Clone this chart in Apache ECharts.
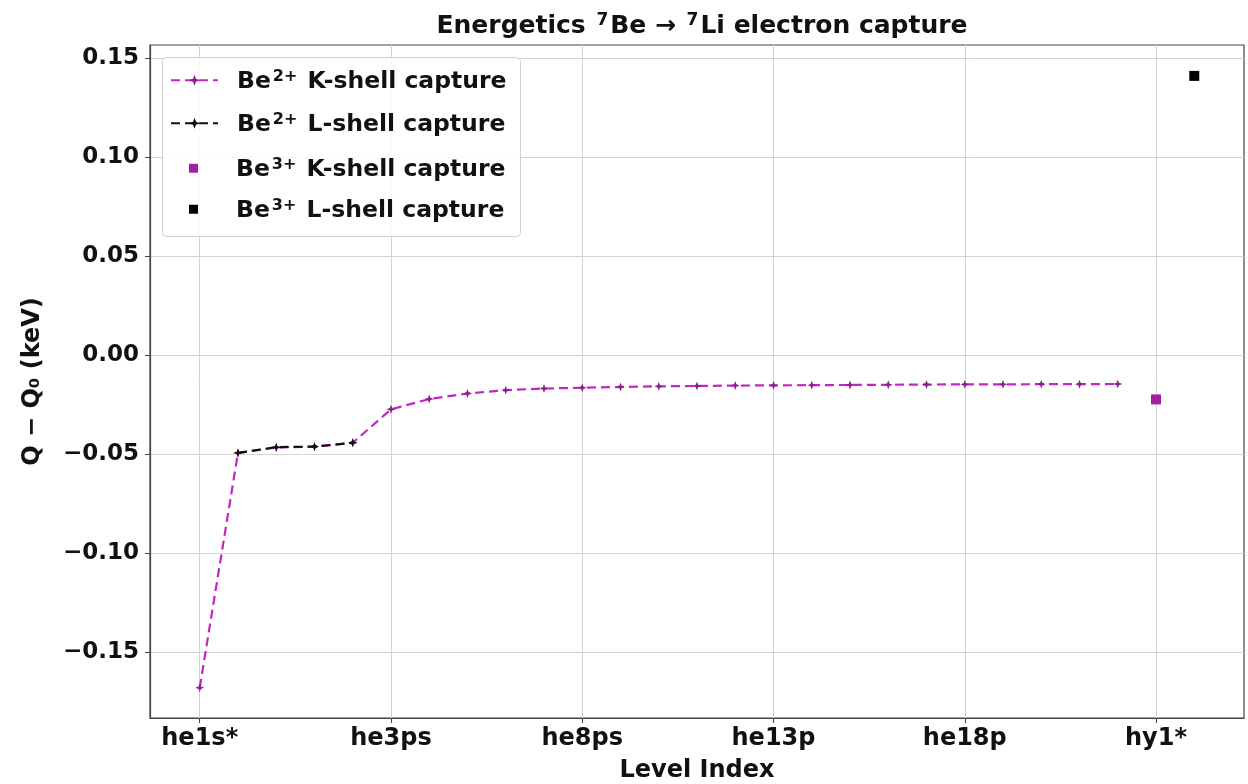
<!DOCTYPE html>
<html>
<head>
<meta charset="utf-8">
<script src="https://cdn.jsdelivr.net/npm/echarts@6/dist/echarts.min.js"></script>
<style>html,body{margin:0;padding:0;background:#fff}#chart{width:1248px;height:784px}</style>
</head>
<body>
<div id="chart"></div>
<script>
// ---- data ----
const xTickPositions = [0, 5, 10, 15, 20, 25];
const xTickLabels = ['he1s*', 'he3ps', 'he8ps', 'he13p', 'he18p', 'hy1*'];
const yTickValues = [-0.15, -0.10, -0.05, 0.00, 0.05, 0.10, 0.15];

// Be2+ K-shell capture, level index 0..24
const kShellBe2Index = [0,1,2,3,4,5,6,7,8,9,10,11,12,13,14,15,16,17,18,19,20,21,22,23,24];
const kShellBe2Values = [-0.168, -0.0494, -0.0467, -0.0463, -0.0443, -0.0274, -0.0222, -0.0194, -0.0177, -0.0169,
  -0.0165, -0.0161, -0.0158, -0.0156, -0.0154, -0.0153, -0.0152, -0.0151, -0.0150, -0.0149,
  -0.0148, -0.0148, -0.0147, -0.0147, -0.0146];
// Be2+ L-shell capture
const lShellBe2Index = [1, 2, 3, 4];
const lShellBe2Values = [-0.0494, -0.0465, -0.0462, -0.0443];
// Be3+ captures
const kShellBe3Index = [25];
const kShellBe3Values = [-0.0224];
const lShellBe3Index = [26];
const lShellBe3Values = [0.141];

const seriesNames = ['Be2+ K-shell capture', 'Be2+ L-shell capture', 'Be3+ K-shell capture', 'Be3+ L-shell capture'];

const pairs = (xs, ys) => xs.map((x, i) => [x, ys[i]]);
const FONT = 'DejaVu Sans';
const starPath = 'path://M0,-6L1.6,-1.6L6,0L1.6,1.6L0,6L-1.6,1.6L-6,0L-1.6,-1.6Z';
const squareIcon = 'path://M0,0L10,0L10,10L0,10Z';

function makeRich(size, supSize, supPad) {
  return {
    n: {fontFamily: FONT, fontWeight: 'bold', fontSize: size, color: '#111', lineHeight: size + 4, verticalAlign: 'bottom'},
    n0: {fontFamily: FONT, fontWeight: 'bold', fontSize: size, color: '#111', lineHeight: size + 4, verticalAlign: 'bottom', padding: [0, 0, 0, 14]},
    s: {fontFamily: FONT, fontWeight: 'bold', fontSize: supSize, color: '#111', verticalAlign: 'bottom', padding: [0, 2, supPad, 2]}
  };
}
const legendRich = makeRich(23.5, 16, 9);
const titleRich = makeRich(25, 17, 10);
const legendFormatter = (name) => {
  const m = name.match(/^Be(\d\+)\s(.*)$/);
  return '{n0|Be}{s|' + m[1] + '}{n| ' + m[2] + '}';
};

const chart = echarts.init(document.getElementById('chart'), null, {renderer: 'canvas'});
chart.setOption({
  animation: false,
  backgroundColor: '#ffffff',
  title: {
    text: '{n|Energetics }{s|7}{n|Be → }{s|7}{n|Li electron capture}',
    left: 697, textAlign: 'center', top: 5,
    textStyle: {rich: titleRich}
  },
  grid: {left: 150, right: 4, top: 45, bottom: 66, show: true, borderColor: '#444', borderWidth: 1.2,
    backgroundColor: 'transparent', containLabel: false, outerBoundsMode: 'none'},
  graphic: [{
    type: 'rect', z: 3, left: 162, top: 57,
    shape: {width: 358, height: 179, r: 4},
    style: {fill: 'rgba(255,255,255,0.85)', stroke: '#d0d0d0', lineWidth: 1}
  }],
  legend: [{
    data: [seriesNames[0], seriesNames[1]],
    orient: 'vertical', left: 162, top: 57, padding: [12, 8, 0, 8],
    itemWidth: 47, itemHeight: 14, itemGap: 18,
    formatter: legendFormatter,
    textStyle: {rich: legendRich}
  }, {
    data: [{name: seriesNames[2], icon: squareIcon}, {name: seriesNames[3], icon: squareIcon}],
    orient: 'vertical', left: 181, top: 147, padding: [10, 8, 0, 8],
    itemWidth: 47, itemHeight: 9, itemGap: 16, symbolKeepAspect: true,
    formatter: legendFormatter,
    textStyle: {rich: legendRich}
  }],
  xAxis: {
    type: 'value', min: -1.3, max: 27.3,
    name: 'Level Index', nameLocation: 'middle', nameGap: 41,
    nameTextStyle: {fontFamily: FONT, fontWeight: 'bold', fontSize: 24, color: '#111'},
    axisLine: {show: true, onZero: false, lineStyle: {color: '#444', width: 1.2}},
    axisTick: {show: true, length: 5, customValues: xTickPositions, lineStyle: {color: '#444'}},
    axisLabel: {
      customValues: xTickPositions, margin: 9,
      fontFamily: FONT, fontWeight: 'bold', fontSize: 24, color: '#111',
      formatter: (v) => xTickLabels[xTickPositions.indexOf(Math.round(v))] || ''
    },
    splitLine: {show: true, lineStyle: {color: '#d3d3d3', width: 1}}
  },
  yAxis: {
    type: 'value', min: -0.1833, max: 0.1566,
    name: 'Q − Q₀ (keV)', nameLocation: 'middle', nameGap: 105, nameRotate: 90,
    nameTextStyle: {fontFamily: FONT, fontWeight: 'bold', fontSize: 24, color: '#111'},
    axisLine: {show: true, onZero: false, lineStyle: {color: '#444', width: 1.2}},
    axisTick: {show: true, length: 5, customValues: yTickValues, lineStyle: {color: '#444'}},
    axisLabel: {
      customValues: yTickValues, margin: 11,
      fontFamily: FONT, fontWeight: 'bold', fontSize: 23, color: '#111',
      formatter: (v) => (v < -1e-9 ? '−' : '') + Math.abs(v).toFixed(2)
    },
    splitLine: {show: true, lineStyle: {color: '#d3d3d3', width: 1}}
  },
  series: [{
    name: seriesNames[0], type: 'line', z: 3,
    data: pairs(kShellBe2Index, kShellBe2Values),
    symbol: starPath, symbolSize: 9, showSymbol: true,
    lineStyle: {color: '#c424c4', width: 2.2, type: [9, 5]},
    itemStyle: {color: '#8f1f8f'}
  }, {
    name: seriesNames[1], type: 'line', z: 4,
    data: pairs(lShellBe2Index, lShellBe2Values),
    symbol: starPath, symbolSize: 9, showSymbol: true,
    lineStyle: {color: '#111', width: 2.2, type: [9, 5]},
    itemStyle: {color: '#111'}
  }, {
    name: seriesNames[2], type: 'scatter', z: 4,
    data: pairs(kShellBe3Index, kShellBe3Values),
    symbol: 'rect', symbolSize: 10,
    itemStyle: {color: '#a0209f', opacity: 1}
  }, {
    name: seriesNames[3], type: 'scatter', z: 4,
    data: pairs(lShellBe3Index, lShellBe3Values),
    symbol: 'rect', symbolSize: 10,
    itemStyle: {color: '#000', opacity: 1}
  }]
});
</script>
</body>
</html>
